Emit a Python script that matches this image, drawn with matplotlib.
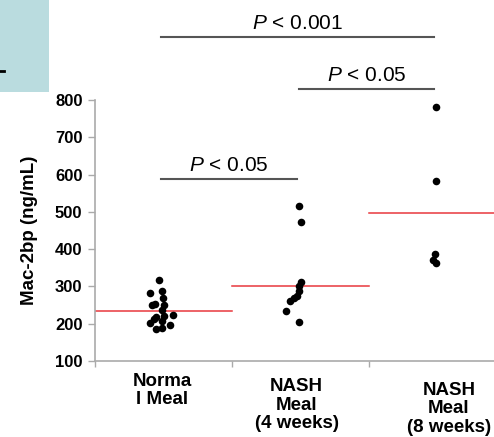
import matplotlib
matplotlib.use("Agg")
import matplotlib.pyplot as plt
from matplotlib.patches import Rectangle
from matplotlib.lines import Line2D

plt.rcParams['font.family'] = ['Liberation Sans', 'DejaVu Sans']
plt.rcParams['mathtext.fontset'] = 'custom'
plt.rcParams['mathtext.it'] = 'Liberation Sans:italic'
plt.rcParams['mathtext.rm'] = 'Liberation Sans'

categories = ["Norma\nl Meal", "NASH\nMeal\n(4 weeks)", "NASH\nMeal\n(8 weeks)"]

normal_vals = [318, 282, 288, 270, 249, 253, 251, 236, 218, 221, 224, 202, 206, 197, 187, 188, 213]
normal_dx = [-0.02, -0.09, 0.0, 0.005, -0.075, -0.055, 0.01, 0.0, -0.045, 0.01, 0.08, -0.09, 0.0, 0.06, -0.045, 0.0, -0.06]

nash4_vals = [516, 473, 311, 300, 287, 275, 269, 262, 235, 205]
nash4_dx = [0.0, 0.012, 0.015, 0.0, -0.005, -0.015, -0.04, -0.07, -0.10, -0.005]

nash8_vals = [782, 584, 387, 371, 363]
nash8_dx = [0.0, 0.0, -0.01, -0.025, 0.0]

medians = [233, 301, 496]

sig_labels = ["< 0.001", "< 0.05", "< 0.05"]
sig_pairs = [(0.48, 2.47), (1.49, 2.47), (0.48, 1.47)]
sig_heights = [969, 829, 588]

W, H = 494, 437
fig = plt.figure(figsize=(W / 100, H / 100), dpi=100)
ax = fig.add_axes([95 / W, (437 - 361) / H, (494 - 95) / W, 261 / H])

groups = [normal_vals, nash4_vals, nash8_vals]
offsets = [normal_dx, nash4_dx, nash8_dx]
centers = [0.49, 1.49, 2.49]
for c, vals, dx in zip(centers, groups, offsets):
    ax.scatter([c + d for d in dx], vals, s=30, color='black', zorder=3, linewidths=0)

for i, m in enumerate(medians):
    ax.plot([i, i + 1], [m, m], color='#e8383d', lw=1.1, zorder=2)

ax.set_xlim(0, 2.91)
ax.set_ylim(100, 800)
ax.set_yticks(range(100, 801, 100))
ax.set_xticks([0, 1, 2])
ax.set_xticklabels([])
for lab in ax.get_yticklabels():
    lab.set_fontweight('bold')
ax.tick_params(axis='y', labelsize=12, length=5, color='#aaaaaa', width=1, pad=4)
ax.tick_params(axis='x', length=4, color='#aaaaaa', width=1)
for s in ['top', 'right']:
    ax.spines[s].set_visible(False)
for s in ['left', 'bottom']:
    ax.spines[s].set_color('#aaaaaa')
    ax.spines[s].set_linewidth(1.2)

ax.set_ylabel("Mac-2bp (ng/mL)", fontsize=13.5, fontweight='bold', labelpad=12)

label_x = [0.49, 1.47, 2.58]
label_y = [-0.045, -0.065, -0.08]
for x, y, t in zip(label_x, label_y, categories):
    ax.text(x, y, t, transform=ax.get_xaxis_transform(), ha='center', va='top',
            fontsize=13.5, fontweight='bold', linespacing=1.12)

for (x0, x1), h, t in zip(sig_pairs, sig_heights, sig_labels):
    ax.plot([x0, x1], [h, h], color='#555555', lw=1.5, clip_on=False)
    ax.text((x0 + x1) / 2, h + 12, r"$P$ " + t, ha='center', va='bottom',
            fontsize=15, clip_on=False)

fig.patches.append(Rectangle((0, 1 - 92 / H), 49 / W, 92 / H, transform=fig.transFigure,
                             facecolor='#badcdf', edgecolor='none', zorder=0))
fig.lines.append(Line2D([0, 4 / W], [1 - 71 / H, 1 - 71 / H], transform=fig.transFigure,
                        color='black', lw=2))

fig.savefig("out.png", dpi=100)
